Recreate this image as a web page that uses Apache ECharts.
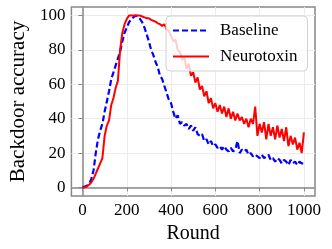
<!DOCTYPE html>
<html><head><meta charset="utf-8">
<script src="https://cdn.jsdelivr.net/npm/echarts@6/dist/echarts.min.js"></script>
<style>html,body{margin:0;padding:0;background:#fff}#c{width:332px;height:249px}</style>
</head><body><div id="c"></div>
<script>
const rounds = [0,10,20,30,40,50,60,70,80,90,100,110,120,130,140,150,160,170,180,190,200,210,220,230,240,250,260,270,280,290,300,310,320,330,340,350,360,370,380,390,400,410,420,430,440,450,460,470,480,490,500,510,520,530,540,550,560,570,580,590,600,610,620,630,640,650,660,670,680,690,700,710,720,730,740,750,760,770,780,790,800,810,820,830,840,850,860,870,880,890,900,910,920,930,940,950,960,970,980,990,1000];
const baseline = [0,0.5,1,2,5,10,20,28,33,37,44,50,56,63,67,71,75,79,85,90,93,96,98,99,100,99.5,98,96,93,89,85,80,77,73,70,65,63,59,55,51,49,44,40,42,37,38,36,37,34,36,33,35,31,30,31,27,28,25,27,24,25,23,24,22,24,22,21,23,21,22,27,20,22,21,22,19,20,18,19,18,17,19,17,18,19,16,17,15,17,16,14,16,15,13,16,14,15,13,15,14,14];
const neurotoxin = [0,0,0.5,1.5,3,5,8,11,14,17,30,36,39,48,52,58,62,80,90,95,98,100,100,100,100,100,100,99.5,99,98.5,98.5,97.5,97,96.5,95.5,95,94,95,92,91,88,85,86,80,79,74,76,69,72,65,67,61,64,57,59,53,56,49,52,46,49,44,48,43,47,41,46,40,44,39,43,39,41,37,40,35,40,37,47,30,37,32,38,28,37,30,35,28,36,29,34,27,35,24,30,25,29,22,26,20,32];
const xTicks = [0,200,400,600,800,1000];
const yTicks = [0,20,40,60,80,100];
const seriesNames = ['Baseline','Neurotoxin'];

const chart = echarts.init(document.getElementById('c'), null, {renderer:'canvas'});
const font = 'Liberation Serif';
chart.setOption({
  animation:false,
  grid:{left:64,right:17,top:7,bottom:53,show:true,borderColor:'#888',borderWidth:1.5,backgroundColor:'#fff'},
  legend:{
    data:[{name:seriesNames[0],lineStyle:{type:[6,3],width:2,color:'#0000ff'}},
          {name:seriesNames[1],lineStyle:{type:'solid',width:2,color:'#ff0000'}}],
    orient:'vertical', left:166, top:16,
    itemWidth:36, itemHeight:14, itemGap:9,
    itemStyle:{opacity:0},
    backgroundColor:'rgba(255,255,255,0.8)', borderColor:'#d0d0d0', borderWidth:1, borderRadius:4,
    padding:[6,10,6,6],
    textStyle:{fontFamily:font,fontSize:17,color:'#000',padding:[0,0,0,6]}
  },
  xAxis:{
    type:'value', min:-50, max:1050,
    name:'Round', nameLocation:'middle', nameGap:28,
    nameTextStyle:{fontFamily:font,fontSize:20,color:'#000'},
    axisLine:{show:true,lineStyle:{color:'#888',width:1.5}},
    axisTick:{show:true,length:4,customValues:xTicks,lineStyle:{color:'#888'}},
    axisLabel:{customValues:xTicks,formatter:v=>String(v),fontFamily:font,fontSize:17,color:'#000',margin:6},
    splitLine:{show:true,lineStyle:{color:'#ebebeb',width:1}}
  },
  yAxis:{
    type:'value', min:-5, max:105,
    name:'Backdoor accuracy', nameLocation:'middle', nameGap:39,
    nameTextStyle:{fontFamily:font,fontSize:21,color:'#000'},
    axisLine:{show:true,lineStyle:{color:'#888',width:1.5}},
    axisTick:{show:true,length:4,customValues:yTicks,lineStyle:{color:'#888'}},
    axisLabel:{customValues:yTicks,formatter:v=>String(v),fontFamily:font,fontSize:17,color:'#000',margin:6},
    splitLine:{show:true,lineStyle:{color:'#ebebeb',width:1}}
  },
  series:[
    {name:seriesNames[0],type:'line',symbol:'none',data:rounds.map((r,i)=>[r,baseline[i]]),
     lineStyle:{color:'#0000ff',width:2.2,type:[6,3]},itemStyle:{color:'#0000ff'},z:2},
    {name:seriesNames[1],type:'line',symbol:'none',data:rounds.map((r,i)=>[r,neurotoxin[i]]),
     lineStyle:{color:'#ff0000',width:2},itemStyle:{color:'#ff0000'},z:3}
  ]
});
</script></body></html>
